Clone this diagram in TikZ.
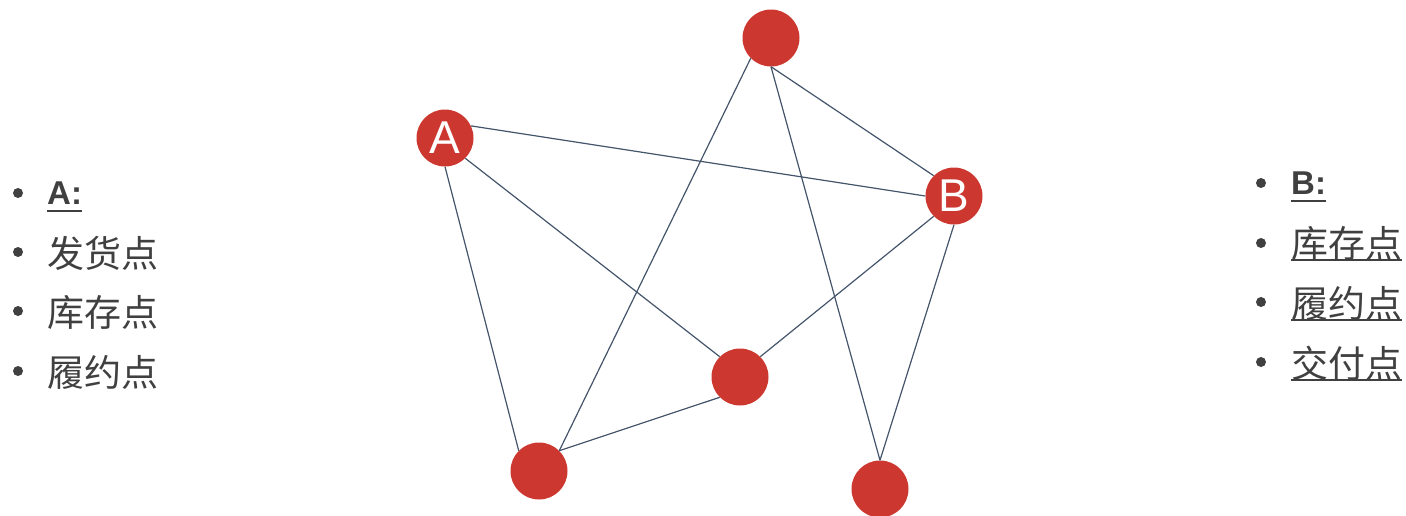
\documentclass[tikz,border=0pt]{standalone}
\usepackage{fontspec}
\setmainfont{Liberation Sans}
\newfontfamily\cjk{Noto Sans CJK SC}
\definecolor{nodered}{HTML}{CC382F}
\definecolor{edgecol}{HTML}{44546A}
\definecolor{txt}{HTML}{404040}
\tikzset{
  pt/.style={circle, fill=nodered, minimum size=57pt, inner sep=0pt, text=white, font=\fontsize{46}{46}\selectfont},
  edge/.style={draw=edgecol, line width=1.2pt},
  lbl/.style={anchor=base west, inner sep=0pt, text=txt, font=\cjk\fontsize{37}{37}\selectfont},
  hdr/.style={anchor=base west, inner sep=0pt, text=txt, font=\bfseries\fontsize{33}{33}\selectfont},
  bul/.style={circle, fill=txt, minimum size=10pt, inner sep=0pt},
  uline/.style={draw=txt, line width=2pt}
}
\begin{document}
\begin{tikzpicture}[x=1pt,y=-1pt]
\useasboundingbox (0,0) rectangle (1406,515);
\clip (0,0) rectangle (1406,515);
% nodes
\node[pt] (T) at (771,38) {};
\node[pt] (A) at (445,138) {A};
\node[pt] (B) at (954,196) {B};
\node[pt] (M) at (740,377) {};
\node[pt] (L) at (539,471) {};
\node[pt] (R) at (880,489) {};
% edges
\path[edge] (A.25) -- (B.west);
\path[edge] (A.south east) -- (M.north west);
\path[edge] (A.south) -- (L.north west);
\path[edge] (T.south west) -- (L.north east);
\path[edge] (T.south) -- (B.north west);
\path[edge] (T.south) -- (R.north);
\path[edge] (B.south west) -- (M.north east);
\path[edge] (B.south) -- (R.north);
\path[edge] (M.south west) -- (L.north east);
% left list
\node[bul] (lb1) at (18,193) {};
\node[bul] (lb2) at (18,252) {};
\node[bul] (lb3) at (18,311) {};
\node[bul] (lb4) at (18,371) {};
\node[hdr] (la) at (47,204) {A:};
\draw[uline] (47,211) -- (la.base east |- 0,211);
\node[lbl] (l1) at (47,267) {发货点};
\node[lbl] (l2) at (47,326) {库存点};
\node[lbl] (l3) at (47,386) {履约点};
% right list
\node[bul] (rb1) at (1261,183) {};
\node[bul] (rb2) at (1261,243) {};
\node[bul] (rb3) at (1261,302) {};
\node[bul] (rb4) at (1261,362) {};
\node[hdr] (rh) at (1291,194) {B:};
\draw[uline] (1291,201) -- (rh.base east |- 0,201);
\node[lbl] (r1) at (1291,257) {库存点};
\node[lbl] (r2) at (1291,317) {履约点};
\node[lbl] (r3) at (1291,377) {交付点};
\draw[uline] (1291,260) -- (r1.base east |- 0,260);
\draw[uline] (1291,320) -- (r2.base east |- 0,320);
\draw[uline] (1291,380) -- (r3.base east |- 0,380);
\end{tikzpicture}
\end{document}
